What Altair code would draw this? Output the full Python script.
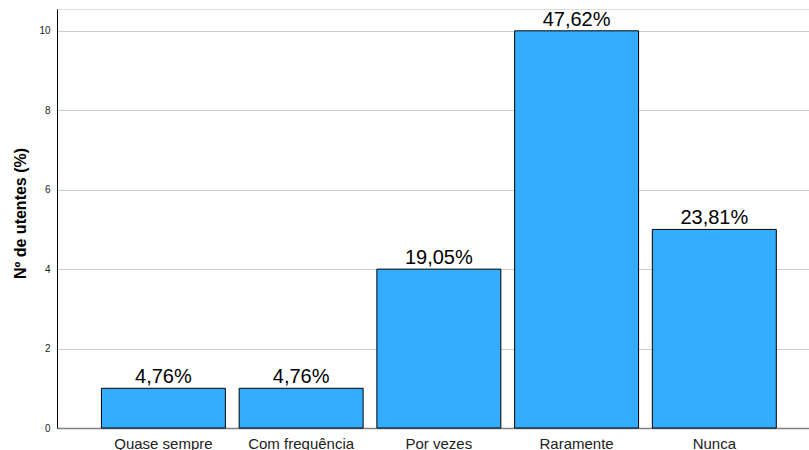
import altair as alt
import pandas as pd

categories = ["Quase sempre", "Com frequência", "Por vezes", "Raramente", "Nunca"]
counts = [1, 1, 4, 10, 5]
pct_labels = ["4,76%", "4,76%", "19,05%", "47,62%", "23,81%"]
y_ticks = [0, 2, 4, 6, 8, 10]

df = pd.DataFrame({"cat": categories, "n": counts, "lab": pct_labels})

x = alt.X("cat:N", sort=categories, title=None,
          scale=alt.Scale(paddingInner=0.1, paddingOuter=0.28, align=0.576),
          axis=alt.Axis(labelAngle=0, ticks=False, labelFontSize=15, labelFont="Liberation Sans",
                        labelColor="#222222", labelPadding=20, labelBaseline="alphabetic",
                        domainColor="#808080", domainWidth=1.5, grid=False))
y = alt.Y("n:Q", title="Nº de utentes (%)",
          scale=alt.Scale(domain=[0, 10.55], nice=False),
          axis=alt.Axis(values=y_ticks, ticks=False, labelFontSize=10, labelFont="Liberation Sans",
                        labelColor="#222222", labelPadding=7, domainColor="#000000", domainWidth=1,
                        gridColor="#cccccc", gridWidth=1,
                        titleFont="Liberation Sans", titleFontSize=16, titleFontWeight="bold",
                        titleColor="#000000", titleAngle=270, titleX=-32, titleY=204,
                        titleAlign="center", titleBaseline="alphabetic"))

bars = alt.Chart(df).mark_bar(color="#33adff", stroke="#000000", strokeWidth=1).encode(x=x, y=y)
text = alt.Chart(df).mark_text(baseline="alphabetic", dy=-5, fontSize=20, font="Liberation Sans",
                               color="#000000").encode(
    x=alt.X("cat:N", sort=categories), y=alt.Y("n:Q"), text="lab:N")

chart = (bars + text).properties(
    width=752, height=419,
    autosize=alt.AutoSizeParams(type="none"),
    padding={"left": 57, "top": 9, "right": 0, "bottom": 22},
).configure_view(stroke=None).configure(background="#ffffff")

chart.save("out.html", embed_options={"renderer": "svg", "actions": False})
